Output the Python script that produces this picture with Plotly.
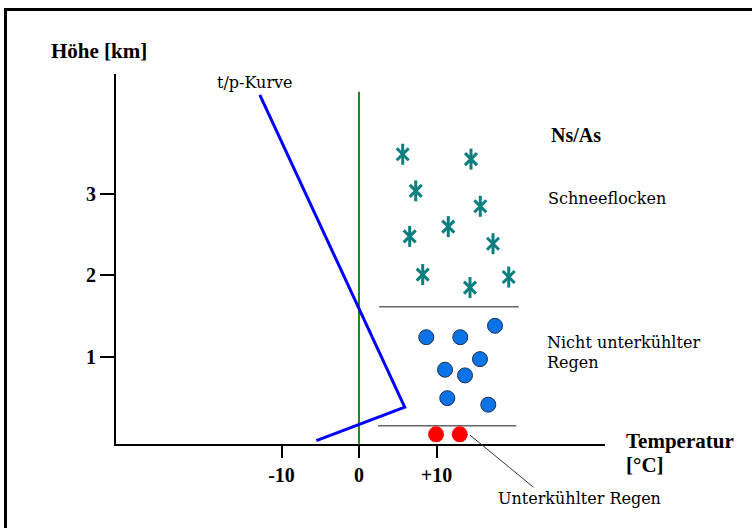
import plotly.graph_objects as go

# ---------------- data ----------------
# t/p curve (temperature [°C], height [km])
curve_temp = [-12.8, 5.9, -5.5]
curve_height = [4.22, 0.38, -0.033]

# 0 °C line
freeze_temp = [0, 0]
freeze_height = [-0.07, 4.26]

# layer boundaries (start temp, end temp, height)
boundary_t0 = [2.6, 2.45]
boundary_t1 = [20.6, 20.3]
boundary_h = [1.615, 0.151]

# snowflakes
snow_temp = [5.64, 14.45, 7.32, 15.65, 11.52, 6.54, 17.29, 8.22, 14.32, 19.32]
snow_height = [3.49, 3.43, 3.04, 2.85, 2.60, 2.48, 2.39, 2.01, 1.85, 1.98]

# rain drops (not supercooled)
rain_temp = [8.68, 13.07, 17.55, 15.61, 11.10, 13.68, 11.39, 16.68]
rain_height = [1.24, 1.24, 1.38, 0.97, 0.84, 0.77, 0.49, 0.41]

# supercooled rain
sc_temp = [9.94, 13.0]
sc_height = [0.045, 0.045]

# leader line for "Unterkühlter Regen" (point, tail)
leader_temp = [14.3, 22.7]
leader_height = [0.037, -0.62]

x_ticks = [-10, 0, 10]
x_ticktext = ["-10", "0", "+10"]
y_ticks = [1, 2, 3]
y_ticktext = ["1", "2", "3"]

# ---------------- layout helpers ----------------
W, H = 752, 528
ML, MR, MT, MB = 116, 147, 74, 84
PW, PH = W - ML - MR, H - MT - MB


def px(p):
    return (p - ML) / PW


def py(p):
    return (H - MB - p) / PH


SERIF = "DejaVu Serif"
BSERIF = "Liberation Serif"
TEAL = "#0b7f7f"

fig = go.Figure()

fig.add_trace(go.Scatter(x=freeze_temp, y=freeze_height, mode="lines",
                         line=dict(color="#1f8a1f", width=2), hoverinfo="skip"))

for t0, t1, h in zip(boundary_t0, boundary_t1, boundary_h):
    fig.add_trace(go.Scatter(x=[t0, t1], y=[h, h], mode="lines",
                             line=dict(color="#666666", width=1.5), hoverinfo="skip"))

fig.add_trace(go.Scatter(x=curve_temp, y=curve_height, mode="lines",
                         line=dict(color="#0000ff", width=3), hoverinfo="skip"))

# snowflake: vertical stroke + X
fig.add_trace(go.Scatter(x=snow_temp, y=snow_height, mode="markers",
                         marker=dict(symbol="line-ns-open", size=15, color=TEAL,
                                     line=dict(color=TEAL, width=3)),
                         hoverinfo="skip"))
fig.add_trace(go.Scatter(x=snow_temp, y=snow_height, mode="markers",
                         marker=dict(symbol="x-thin-open", size=12, color=TEAL,
                                     line=dict(color=TEAL, width=3)),
                         hoverinfo="skip"))

fig.add_trace(go.Scatter(x=rain_temp, y=rain_height, mode="markers",
                         marker=dict(symbol="circle", size=15, color="#0a74e6",
                                     line=dict(color="#1b2f55", width=1)),
                         hoverinfo="skip"))

fig.add_trace(go.Scatter(x=sc_temp, y=sc_height, mode="markers",
                         marker=dict(symbol="circle", size=16, color="#ff0000",
                                     line=dict(width=0)),
                         hoverinfo="skip"))

xmin = -(359 - ML) / 7.75
xmax = xmin + PW / 7.75
ymin = -6 / 81.3
ymax = ymin + PH / 81.3

fig.update_layout(
    width=W, height=H,
    margin=dict(l=ML, r=MR, t=MT, b=MB, pad=0),
    paper_bgcolor="white", plot_bgcolor="white",
    showlegend=False,
    xaxis=dict(range=[xmin, xmax], showgrid=False, zeroline=False,
               showline=True, linecolor="black", linewidth=2,
               ticks="outside", ticklen=12, tickwidth=2, tickcolor="black",
               tickvals=x_ticks, ticktext=x_ticktext,
               tickfont=dict(family=BSERIF, size=20, color="black", weight="bold")),
    yaxis=dict(range=[ymin, ymax], showgrid=False, zeroline=False,
               showline=True, linecolor="black", linewidth=2,
               ticks="outside", ticklen=14, tickwidth=2, tickcolor="black",
               tickvals=y_ticks, ticktext=y_ticktext,
               tickfont=dict(family=BSERIF, size=20, color="black", weight="bold")),
)

ann = []


def label(text, x, y, family, size, bold=False, anchor="left"):
    ann.append(dict(text=text, xref="paper", yref="paper", x=px(x), y=py(y),
                    xanchor=anchor, yanchor="middle", showarrow=False, align="left",
                    font=dict(family=family, size=size, color="black",
                              weight="bold" if bold else "normal")))


label("Höhe [km]", 49, 51, BSERIF, 21, bold=True)
label("t/p-Kurve", 215, 83, SERIF, 16)
label("Ns/As", 549, 135, BSERIF, 20, bold=True)
label("Schneeflocken", 546, 198, SERIF, 16)
label("Nicht unterkühlter", 545, 342, SERIF, 16)
label("Regen", 545, 362, SERIF, 16)
label("Temperatur", 624, 441, BSERIF, 21, bold=True)
label("[°C]", 624, 465, BSERIF, 21, bold=True)
label("Unterkühlter Regen", 496, 498, SERIF, 16)

ann.append(dict(text="", x=leader_temp[0], y=leader_height[0], xref="x", yref="y",
                ax=leader_temp[1], ay=leader_height[1], axref="x", ayref="y",
                showarrow=True, arrowhead=0, arrowwidth=1, arrowcolor="#333333",
                standoff=0, startstandoff=0))

fig.update_layout(annotations=ann)

# outer frame (cropped picture border)
fig.add_shape(type="rect", xref="paper", yref="paper",
              x0=px(5.5), x1=px(W + 20), y0=py(H + 20), y1=py(9.5),
              line=dict(color="black", width=3), fillcolor="rgba(0,0,0,0)", layer="above")

fig.write_html("out.html", config={"displayModeBar": False})

# remove the browser's default page margin so the figure sits at (0, 0)
with open("out.html", "r", encoding="utf-8") as f:
    html = f.read()
html = html.replace("<head>", "<head><style>html,body{margin:0;padding:0;overflow:hidden;}</style>", 1)
with open("out.html", "w", encoding="utf-8") as f:
    f.write(html)
